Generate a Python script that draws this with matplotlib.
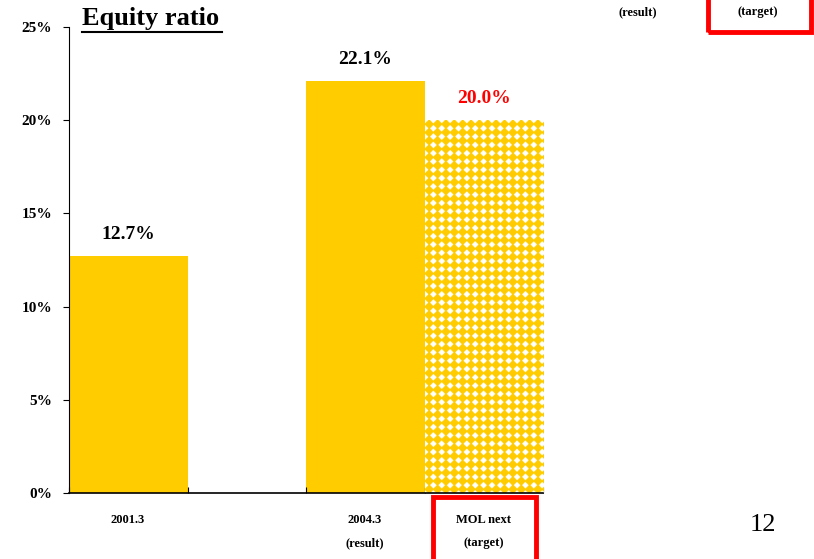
import numpy as np
import matplotlib
matplotlib.use('Agg')
from matplotlib import pyplot as plt
from matplotlib.patches import Rectangle
from matplotlib.lines import Line2D

plt.rcParams['font.family'] = ['Liberation Serif', 'DejaVu Serif']

# equity ratio, %
slots = [0, 2, 3]
values = [12.7, 22.1, 20.0]
value_labels = ['12.7%', '22.1%', '20.0%']
label_colors = ['black', 'black', 'red']
yticks = [0, 5, 10, 15, 20, 25]
ytick_labels = ['0%', '5%', '10%', '15%', '20%', '25%']
yellow = '#FFCC00'

W, H = 814, 559
fig = plt.figure(figsize=(W / 100, H / 100), dpi=100)
ax = fig.add_axes([69 / W, 1 - 493 / H, (543 - 69) / W, (493 - 27) / H])

ax.bar(slots[:2], values[:2], width=1.0, align='edge', color=yellow, linewidth=0)

# target bar: yellow with a grid of white diamonds
tb = ax.bar(slots[2], values[2], width=1.0, align='edge', color='none', linewidth=0)[0]
k = 4
pw = 118 * k
ph = int(round(values[2] / 25 * 466)) * k
per = 8.3 * k
yy, xx = np.mgrid[0:ph, 0:pw] + 0.5
dx = np.abs((xx % per) - per / 2)
dy = np.abs((yy % per) - per / 2)
# corners of each cell form the diamonds
holes = (per / 2 - dx) + (per / 2 - dy) < per * 0.4
img = np.empty((ph, pw, 3))
img[:] = matplotlib.colors.to_rgb(yellow)
img[holes] = 1.0
im = ax.imshow(img, extent=(slots[2], slots[2] + 1, 0, values[2]),
               aspect='auto', interpolation='antialiased', zorder=2)
im.set_clip_path(tb)

for s, v, t, c in zip(slots, values, value_labels, label_colors):
    ax.text(s + 0.5, v + 1.15, t, ha='center', va='center', fontsize=14,
            fontweight='bold', color=c)

ax.set_xlim(0, 4)
ax.set_ylim(0, 25)
ax.set_yticks(yticks)
ax.set_yticklabels(ytick_labels, fontsize=11, fontweight='bold')
ax.tick_params(axis='y', direction='out', length=4, pad=8, width=0.8)
ax.set_xticks([0, 1, 2, 3, 4])
ax.set_xticklabels([])
ax.tick_params(axis='x', direction='in', length=4, width=0.8)
for sp in ['top', 'right']:
    ax.spines[sp].set_visible(False)
ax.spines['left'].set_linewidth(0.8)
ax.spines['bottom'].set_linewidth(1.2)

# category labels under the axis
def ftext(x, y, s, **kw):
    fig.text(x / W, 1 - y / H, s, ha='center', va='center', **kw)

ftext(128, 520, '2001.3', fontsize=9, fontweight='bold')
ftext(365, 520, '2004.3', fontsize=9, fontweight='bold')
ftext(365, 543, '(result)', fontsize=9, fontweight='bold')
ftext(484, 520, 'MOL next', fontsize=9, fontweight='bold')
ftext(484, 543, '(target)', fontsize=9, fontweight='bold')
ftext(638, 12, '(result)', fontsize=9, fontweight='bold')
ftext(758, 12, '(target)', fontsize=9, fontweight='bold')
ftext(763, 525, '12', fontsize=19)

# title with underline
fig.text(82 / W, 1 - 18 / H, 'Equity ratio', ha='left', va='center',
         fontsize=19, fontweight='bold')
fig.add_artist(Line2D([82 / W, 222 / W], [1 - 32 / H, 1 - 32 / H],
                      color='black', linewidth=1.5))

# red frames around the target labels
fig.add_artist(Rectangle((433 / W, 1 - 562 / H), 103 / W, 65 / H,
                         fill=False, edgecolor='red', linewidth=3.5,
                         transform=fig.transFigure))
fig.add_artist(Rectangle((708 / W, 1 - 32 / H), 103 / W, 40 / H,
                         fill=False, edgecolor='red', linewidth=3.5,
                         transform=fig.transFigure))

fig.savefig('out.png', dpi=100)
